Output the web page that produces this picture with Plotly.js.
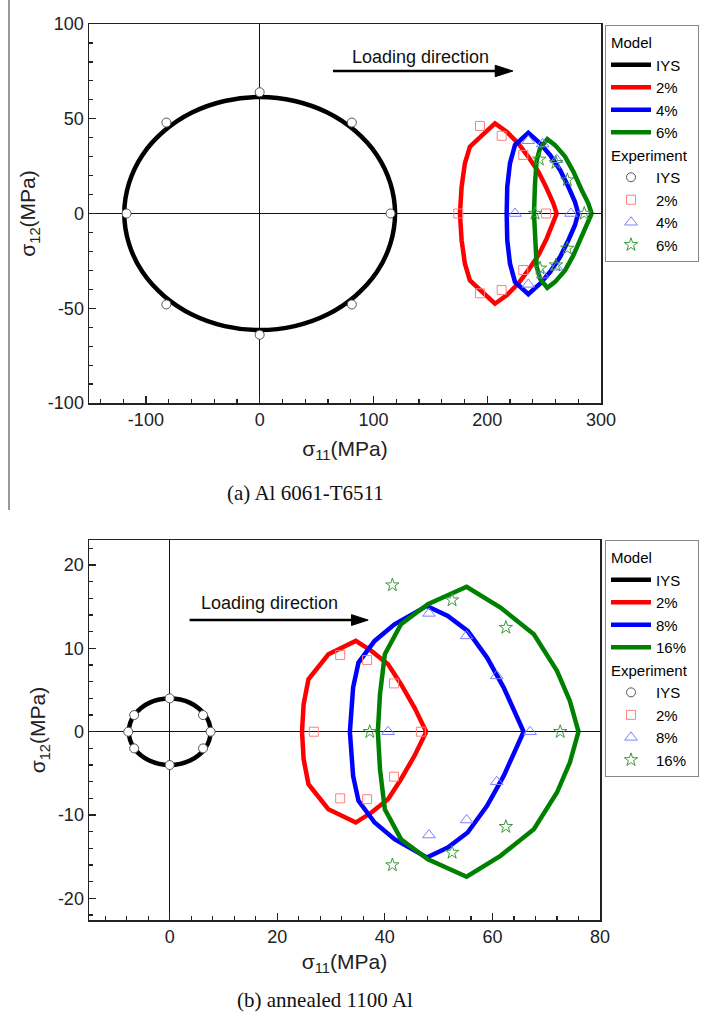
<!DOCTYPE html>
<html>
<head>
<meta charset="utf-8">
<script src="https://cdn.plot.ly/plotly-3.0.1.min.js"></script>
<style>html,body{margin:0;padding:0;background:#fff;}#chart{width:704px;height:1022px;}</style>
</head>
<body>
<div id="chart"></div>
<script>
// ---------- (a) Al 6061-T6511 ----------
const aIysModelX = [119,114.9,103.1,84.1,59.5,30.8,0,-30.8,-59.5,-84.1,-103.1,-114.9,-119,-114.9,-103.1,-84.1,-59.5,-30.8,0,30.8,59.5,84.1,103.1,114.9,119];
const aIysModelY = [0,15.9,30.8,43.5,53.3,59.4,61.5,59.4,53.3,43.5,30.8,15.9,0,-15.9,-30.8,-43.5,-53.3,-59.4,-61.5,-59.4,-53.3,-43.5,-30.8,-15.9,0];
const a2ModelX = [261.1,258.1,252.2,244.9,236.1,227.3,217.1,206.8,184.8,180.4,177.5,176.0,177.5,180.4,184.8,206.8,217.1,227.3,236.1,244.9,252.2,258.1,261.1];
const a2ModelY = [0,5.4,13.3,22.1,29.9,37.0,43.2,47.6,35.3,26.5,14.1,0,-14.1,-26.5,-35.3,-47.6,-43.2,-37.0,-29.9,-22.1,-13.3,-5.4,0];
const a4ModelX = [280.0,277.1,271.3,264.0,255.2,246.4,236.1,224.4,220.0,217.6,217.1,217.6,220.0,224.4,236.1,246.4,255.2,264.0,271.3,277.1,280.0];
const a4ModelY = [0,6.2,14.1,23.0,30.9,37.0,42.6,36.1,26.5,14.1,0,-14.1,-26.5,-36.1,-42.6,-37.0,-30.9,-23.0,-14.1,-6.2,0];
const a6ModelX = [291.8,288.8,283.0,275.7,268.4,259.6,252.8,246.4,243.5,242.0,241.1,242.0,243.5,246.4,252.8,259.6,268.4,275.7,283.0,288.8,291.8];
const a6ModelY = [0,5.4,12.4,22.1,30.0,36.1,39.2,34.4,28.2,15.9,0,-15.9,-28.2,-34.4,-39.2,-36.1,-30.0,-22.1,-12.4,-5.4,0];

const aIysExpX = [115,81,0,-82,-117,-82,0,81];
const aIysExpY = [0,48,64,48,0,-48,-64,-48];
const a2ExpX = [193.6,212.7,231.7,174.6,251.6,231.7,212.7,193.6];
const a2ExpY = [46.2,41.0,30.9,0,0,-29.8,-40.4,-42.1];
const a4ExpX = [236.1,248.7,261.0,224.4,273.6,261.0,248.7,236.1];
const a4ExpY = [38.4,36.7,28.4,0,0,-28.4,-32.5,-37.4];
const a6ExpX = [245.8,260.4,270.4,242.0,285.3,270.4,260.4,246.4];
const a6ExpY = [28.6,26.8,17.7,0,0,-18.4,-27.2,-28.9];
const aLabels = ["IYS","2%","4%","6%"];
const aXTicks = [-100,0,100,200,300];
const aXTickText = ["-100","0","100","200","300"];
const aYTicks = [-100,-50,0,50,100];
const aYTickText = ["-100","-50","0","50","100"];

// ---------- (b) annealed 1100 Al ----------
const bIysModelX = [7.6,7.34,6.58,5.37,3.8,1.97,0,-1.97,-3.8,-5.37,-6.58,-7.34,-7.6,-7.34,-6.58,-5.37,-3.8,-1.97,0,1.97,3.8,5.37,6.58,7.34,7.6];
const bIysModelY = [0,1.04,2.0,2.83,3.46,3.86,4.0,3.86,3.46,2.83,2.0,1.04,0,-1.04,-2.0,-2.83,-3.46,-3.86,-4.0,-3.86,-3.46,-2.83,-2.0,-1.04,0];
const b2ModelX = [47.7,45.5,43.0,40.6,37.5,34.6,29.5,25.8,24.9,24.6,24.9,25.8,29.5,34.6,37.5,40.6,43.0,45.5,47.7];
const b2ModelY = [0,2.9,5.7,8.1,9.7,10.9,9.3,6.3,3.3,0,-3.3,-6.3,-9.3,-10.9,-9.7,-8.1,-5.7,-2.9,0];
const b8ModelX = [65.8,62.1,59.0,55.4,51.7,47.8,41.8,38.1,35.1,34.1,33.5,34.1,35.1,38.1,41.8,47.8,51.7,55.4,59.0,62.1,65.8];
const b8ModelY = [0,5.3,8.9,12.1,13.9,15.1,12.9,10.9,8.3,5.3,0,-5.3,-8.3,-10.9,-12.9,-15.1,-13.9,-12.1,-8.9,-5.3,0];
const b16ModelX = [76.0,74.4,72.0,67.7,61.5,55.2,48.0,43.0,40.0,39.1,38.7,39.1,40.0,43.0,48.0,55.2,61.5,67.7,72.0,74.4,76.0];
const b16ModelY = [0,3.7,7.3,11.7,14.9,17.4,15.3,12.9,9.3,4.5,0,-4.5,-9.3,-12.9,-15.3,-17.4,-14.9,-11.7,-7.3,-3.7,0];

const bIysExpX = [7.6,6.2,0,-6.6,-7.7,-6.6,0,6.2];
const bIysExpY = [0,2.0,4.0,2.0,0,-2.0,-4.0,-2.0];
const b2ExpX = [31.7,36.7,41.7,26.8,46.7,41.7,36.7,31.7];
const b2ExpY = [9.2,8.6,5.8,0,0,-5.4,-8.1,-8.0];
const b8ExpX = [48.2,55.2,60.8,40.6,67.0,60.8,55.2,48.2];
const b8ExpY = [14.2,11.5,6.7,0,0,-6.0,-10.6,-12.4];
const b16ExpX = [41.4,52.5,62.5,37.2,72.6,62.5,52.5,41.4];
const b16ExpY = [17.6,15.8,12.5,0,0,-11.4,-14.5,-16.0];
const bLabels = ["IYS","2%","8%","16%"];
const bXTicks = [0,20,40,60,80];
const bXTickText = ["0","20","40","60","80"];
const bYTicks = [-20,-10,0,10,20];
const bYTickText = ["-20","-10","0","10","20"];

// ---------- styling ----------
const FONT = "Liberation Sans, Arial, sans-serif";
const lineColors = ["#000000","#ff0000","#0000ff","#008000"];
const expStyles = [
  {symbol:"circle", color:"#ffffff", line:"#555555", size:9},
  {symbol:"square-open", color:"#ff7f7f", line:"#ff7f7f", size:9},
  {symbol:"triangle-up-open", color:"#7f7fff", line:"#7f7fff", size:11},
  {symbol:"star-open", color:"#3a9a3a", line:"#3a9a3a", size:10}
];
const LEGFONT = 15;

function buildTraces(models, exps, labels, xa, ya, legendId) {
  const tr = [];
  models.forEach((m, i) => {
    tr.push({
      type:"scatter", mode:"lines", x:m[0], y:m[1], xaxis:xa, yaxis:ya,
      name:labels[i], legend:legendId, legendgroup:legendId+"model",
      legendgrouptitle: i===0 ? {text:"Model", font:{family:FONT,size:LEGFONT,color:"#000"}} : undefined,
      line:{color:lineColors[i], width:4.5, shape: i===0 ? "spline" : "linear"},
      hoverinfo:"x+y"
    });
  });
  exps.forEach((e, i) => {
    const s = expStyles[i];
    tr.push({
      type:"scatter", mode:"markers", x:e[0], y:e[1], xaxis:xa, yaxis:ya,
      name:labels[i], legend:legendId, legendgroup:legendId+"exp",
      legendgrouptitle: i===0 ? {text:"Experiment", font:{family:FONT,size:LEGFONT,color:"#000"}} : undefined,
      marker:{symbol:s.symbol, size:s.size, color:s.color, line:{color:s.line, width:1}},
      hoverinfo:"x+y"
    });
  });
  return tr;
}

const data = [].concat(
  buildTraces(
    [[aIysModelX,aIysModelY],[a2ModelX,a2ModelY],[a4ModelX,a4ModelY],[a6ModelX,a6ModelY]],
    [[aIysExpX,aIysExpY],[a2ExpX,a2ExpY],[a4ExpX,a4ExpY],[a6ExpX,a6ExpY]],
    aLabels, "x", "y", "legend"),
  buildTraces(
    [[bIysModelX,bIysModelY],[b2ModelX,b2ModelY],[b8ModelX,b8ModelY],[b16ModelX,b16ModelY]],
    [[bIysExpX,bIysExpY],[b2ExpX,b2ExpY],[b8ExpX,b8ExpY],[b16ExpX,b16ExpY]],
    bLabels, "x2", "y2", "legend2")
);

function axis(extra) {
  return Object.assign({
    showline:true, linecolor:"#222", linewidth:1.5, mirror:true,
    ticks:"inside", ticklen:7, tickwidth:1.3, tickcolor:"#222",
    showgrid:false, zeroline:true, zerolinecolor:"#111", zerolinewidth:1.2,
    tickfont:{family:FONT, size:18, color:"#222"},
    automargin:false, fixedrange:true, tickmode:"array"
  }, extra);
}
function minor(dt) {
  return {dtick:dt, tick0:0, ticks:"inside", ticklen:4, tickcolor:"#222", tickwidth:1.2};
}

const titleFont = {family:FONT, size:21, color:"#222"};
const legendBase = {
  bgcolor:"#ffffff", bordercolor:"#888", borderwidth:1,
  font:{family:FONT, size:LEGFONT, color:"#000"},
  xanchor:"left", yanchor:"top", traceorder:"grouped", tracegroupgap:0,
  itemwidth:40, itemclick:false, itemdoubleclick:false
};
const PW = 615; // paper width in px (left margin 89, no right margin)

const layout = {
  width:704, height:1022,
  margin:{l:89, r:0, t:24, b:102},
  paper_bgcolor:"#ffffff", plot_bgcolor:"#ffffff",
  font:{family:FONT, color:"#222"},
  xaxis: axis({domain:[0,512/PW], anchor:"y", range:[-150,300],
    tickvals:aXTicks, ticktext:aXTickText, minor:minor(20),
    title:{text:"σ<sub>11</sub>(MPa)", font:titleFont, standoff:12}}),
  yaxis: axis({domain:[0.577,1], anchor:"x", range:[-100,100],
    tickvals:aYTicks, ticktext:aYTickText, minor:minor(10),
    title:{text:"σ<sub>12</sub>(MPa)", font:titleFont, standoff:6}}),
  xaxis2: axis({domain:[0,511/PW], anchor:"y2", range:[-15,80],
    tickvals:bXTicks, ticktext:bXTickText, minor:minor(4),
    title:{text:"σ<sub>11</sub>(MPa)", font:titleFont, standoff:8}}),
  yaxis2: axis({domain:[0,0.424], anchor:"x2", range:[-22.6,23],
    tickvals:bYTicks, ticktext:bYTickText, minor:minor(2),
    title:{text:"σ<sub>12</sub>(MPa)", font:titleFont, standoff:6}}),
  legend: Object.assign({x:516/PW, y:0.9989}, legendBase),
  legend2: Object.assign({x:516/PW, y:0.424}, legendBase),
  showlegend:true,
  annotations:[
    {xref:"x", yref:"y", x:141, y:82.6, text:"Loading direction", showarrow:false,
     xanchor:"center", yanchor:"middle", font:{family:FONT, size:18, color:"#111"}},
    {xref:"x2", yref:"y2", x:18.5, y:15.4, text:"Loading direction", showarrow:false,
     xanchor:"center", yanchor:"middle", font:{family:FONT, size:18, color:"#111"}},
    {xref:"paper", yref:"paper", x:216/PW, y:0.4766, text:"(a) Al 6061-T6511", showarrow:false,
     xanchor:"center", yanchor:"middle",
     font:{family:"Liberation Serif, Times New Roman, serif", size:21, color:"#111"}},
    {xref:"paper", yref:"paper", x:236/PW, y:-0.0893, text:"(b) annealed 1100 Al", showarrow:false,
     xanchor:"center", yanchor:"middle",
     font:{family:"Liberation Serif, Times New Roman, serif", size:21, color:"#111"}}
  ],
  shapes:[
    {type:"line", xref:"paper", yref:"paper", x0:-80/PW, x1:-80/PW, y0:0.4576, y1:1.027,
     line:{color:"#777", width:1.5}},
    // loading-direction arrows (a)
    {type:"line", xref:"x", yref:"y", x0:64.4, x1:212, y0:75.2, y1:75.2, line:{color:"#000", width:2.5}},
    {type:"path", xref:"x", yref:"y", path:"M 207,78.2 L 222.6,75.2 L 207,72.2 Z",
     fillcolor:"#000", line:{color:"#000", width:1}},
    // loading-direction arrows (b)
    {type:"line", xref:"x2", yref:"y2", x0:3.7, x1:34.5, y0:13.4, y1:13.4, line:{color:"#000", width:2.5}},
    {type:"path", xref:"x2", yref:"y2", path:"M 33.8,14.05 L 36.9,13.4 L 33.8,12.75 Z",
     fillcolor:"#000", line:{color:"#000", width:1}}
  ]
};

Plotly.newPlot("chart", data, layout, {displayModeBar:false, staticPlot:true});
</script>
</body>
</html>
